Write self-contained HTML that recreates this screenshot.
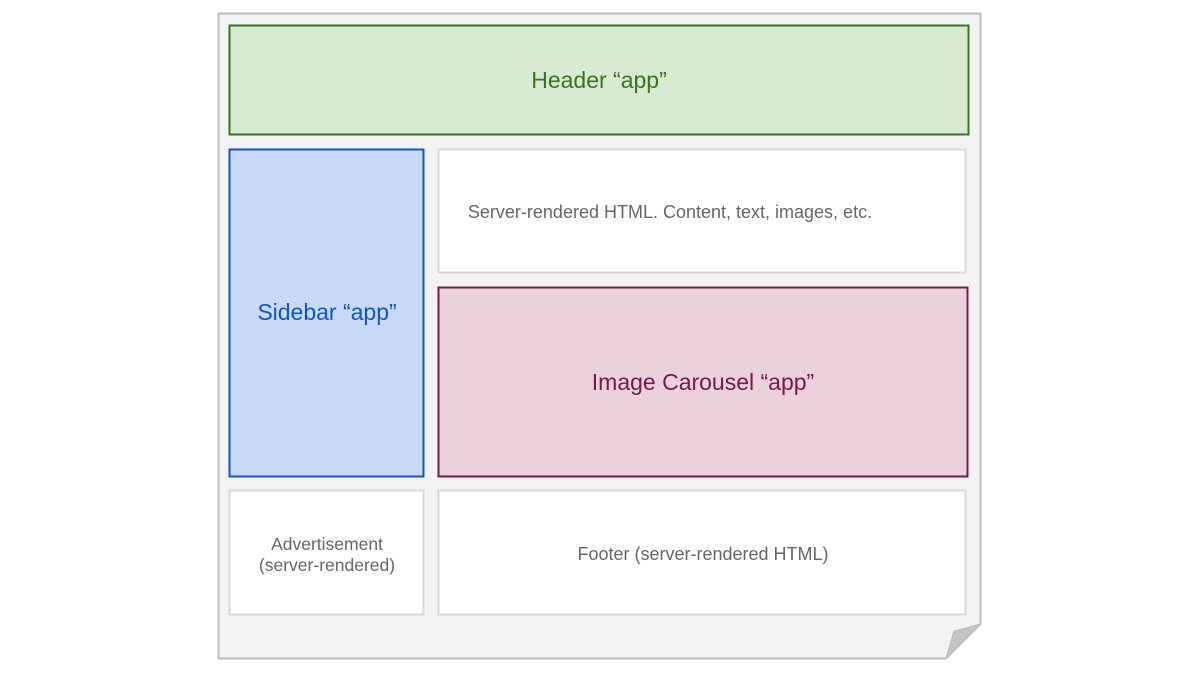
<!DOCTYPE html>
<html><head><style>body{margin:0;background:#fff}svg{display:block}text{font-family:"Liberation Sans",Arial,sans-serif}</style></head>
<body>
<svg width="1200" height="675" viewBox="0 0 1200 675">
<path d="M218.5 13.5 H980.5 V624 L946 658.5 H218.5 Z" fill="#f3f3f3" stroke="#bdbdbd" stroke-width="2"/>
<path d="M980.5 624 L954 631 L946 658.5 Z" fill="#c4c4c4" stroke="#bdbdbd" stroke-width="1"/>
<rect x="229.5" y="25.5" width="739" height="109" fill="#d9ead3" stroke="#38761d" stroke-width="2"/>
<text x="599" y="88" font-size="23" fill="#38761d" text-anchor="middle">Header “app”</text>
<rect x="229.5" y="149.5" width="194" height="327" fill="#c9daf8" stroke="#1155cc" stroke-width="2"/>
<text x="327" y="320" font-size="23" fill="#1155cc" text-anchor="middle">Sidebar “app”</text>
<rect x="438.5" y="149.5" width="527" height="123" fill="#fff" stroke="#d9d9d9" stroke-width="2"/>
<text x="670" y="218" font-size="18" fill="#666" text-anchor="middle">Server-rendered HTML. Content, text, images, etc.</text>
<rect x="438.5" y="287.5" width="529" height="189" fill="#ead1dc" stroke="#741b47" stroke-width="2"/>
<text x="703" y="390" font-size="23" fill="#741b47" text-anchor="middle">Image Carousel “app”</text>
<rect x="229.5" y="490.5" width="194" height="124" fill="#fff" stroke="#d9d9d9" stroke-width="2"/>
<text x="327" y="550" font-size="17.5" fill="#666" text-anchor="middle">Advertisement</text>
<text x="327" y="571" font-size="17.5" fill="#666" text-anchor="middle">(server-rendered)</text>
<rect x="438.5" y="490.5" width="527" height="124" fill="#fff" stroke="#d9d9d9" stroke-width="2"/>
<text x="703" y="560" font-size="18" fill="#666" text-anchor="middle">Footer (server-rendered HTML)</text>
</svg>
</body></html>
